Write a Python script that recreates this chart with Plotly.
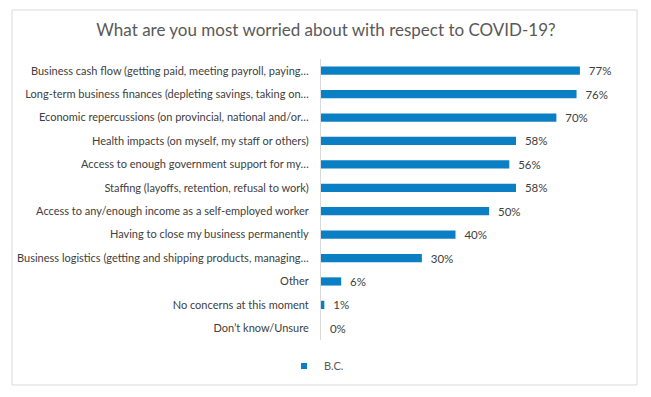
import plotly.graph_objects as go

categories = [
    "Business cash flow (getting paid, meeting payroll, paying…",
    "Long-term business finances (depleting savings, taking on…",
    "Economic repercussions (on provincial, national and/or…",
    "Health impacts (on myself, my staff or others)",
    "Access to enough government support for my…",
    "Staffing (layoffs, retention, refusal to work)",
    "Access to any/enough income as a self-employed worker",
    "Having to close my business permanently",
    "Business logistics (getting and shipping products, managing…",
    "Other",
    "No concerns at this moment",
    "Don’t know/Unsure",
]
values = [77, 76, 70, 58, 56, 58, 50, 40, 30, 6, 1, 0]
series_name = "B.C."
title = "What are you most worried about with respect to COVID-19?"

BAR_COLOR = "#0A7FC4"
OFF = 8  # page body margin
W, H = 651 - OFF, 397 - OFF
L, R, T, B = 321 - OFF, 61, 59 - OFF, 57
pw, ph = W - L - R, H - T - B


def px_x(x):  # image px -> paper x
    return (x - OFF - L) / pw


def px_y(y):  # image px -> paper y
    return (H - B - (y - OFF)) / ph


fig = go.Figure()
fig.add_trace(go.Bar(
    y=categories, x=values, orientation="h", name=series_name,
    marker=dict(color=BAR_COLOR, line=dict(width=0)),
    width=0.35,
    text=[f"  {v}%" for v in values], textposition="outside",
    constraintext="none",
    textfont=dict(size=11.5, color="#404040", family="Lato"),
    cliponaxis=False, showlegend=False,
))
fig.add_trace(go.Scatter(
    x=[None], y=[None], mode="markers", name=series_name,
    marker=dict(symbol="square", size=6, color=BAR_COLOR),
    showlegend=True,
))

fig.update_layout(
    template="none",
    width=W, height=H,
    margin=dict(l=L, r=R, t=T, b=B, autoexpand=False),
    paper_bgcolor="white", plot_bgcolor="white",
    font=dict(family="Lato", size=11, color="#404040"),
    title=dict(text=title, x=(326 - OFF) / W, xref="container", xanchor="center",
               y=1 - (30 - OFF) / H, yref="container", yanchor="middle",
               font=dict(size=17, color="#595959", family="Lato")),
    xaxis=dict(range=[0, 80], showgrid=False, zeroline=False, showline=False,
               showticklabels=False, ticks="", automargin=False),
    yaxis=dict(autorange="reversed", showline=True, linecolor="#D9D9D9",
               linewidth=1, ticks="outside", ticklen=9, tickcolor="rgba(0,0,0,0)",
               showgrid=False, zeroline=False, automargin=False,
               tickfont=dict(size=11, color="#404040", family="Lato")),
    legend=dict(orientation="h", x=px_x(284), xanchor="left",
                y=px_y(366), yanchor="middle",
                font=dict(size=11, color="#595959", family="Lato"),
                itemwidth=30, bgcolor="rgba(0,0,0,0)"),
    showlegend=True,
    bargap=0.65,
)
fig.add_shape(type="rect", xref="paper", yref="paper",
              x0=px_x(12), x1=px_x(637),
              y0=px_y(385), y1=px_y(10),
              line=dict(color="#D9D9D9", width=1), layer="below")
fig.write_html("out.html")
